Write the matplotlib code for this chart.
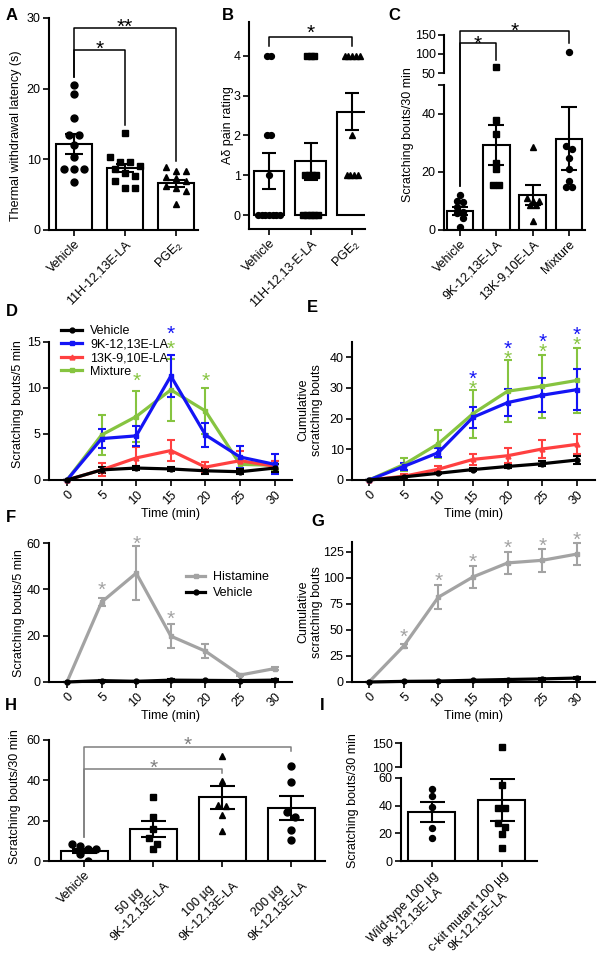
import numpy as np
import matplotlib
matplotlib.use("Agg")
import matplotlib.pyplot as plt
from matplotlib.lines import Line2D
from matplotlib.transforms import ScaledTranslation

plt.rcParams['font.family'] = ['Liberation Sans', 'DejaVu Sans']
plt.rcParams['font.size'] = 9
plt.rcParams['mathtext.fontset'] = 'custom'
plt.rcParams['mathtext.rm'] = 'Liberation Sans'
plt.rcParams['mathtext.default'] = 'regular'
plt.rcParams['axes.linewidth'] = 1.5

# ---------------- data ----------------
# A: thermal withdrawal latency
a_labels = ["Vehicle", "11H-12,13E-LA", "PGE$_2$"]
a_mean = [12.2, 8.8, 6.6]
a_sem = [1.4, 0.6, 0.5]
a_veh = [20.5, 19.2, 15.8, 13.5, 13.5, 12.0, 10.3, 8.6, 8.6, 8.6, 6.8]
a_11h = [13.7, 10.3, 9.6, 9.6, 9.1, 8.6, 8.1, 7.6, 7.0, 6.0, 6.0]
a_pge = [8.9, 8.3, 8.3, 7.5, 7.3, 7.0, 6.2, 6.0, 5.5, 3.7]

# B: A-delta pain rating
b_labels = ["Vehicle", "11H-12,13-E-LA", "PGE$_2$"]
b_mean = [1.1, 1.35, 2.6]
b_sem = [0.45, 0.47, 0.47]
b_veh = [4, 4, 2, 2, 1, 0, 0, 0, 0, 0, 0, 0]
b_11h = [4, 4, 4, 1, 1, 1, 1, 0, 0, 0, 0, 0]
b_pge = [4, 4, 4, 4, 4, 2, 1, 1, 1, 1]

# C: scratching bouts / 30 min
c_labels = ["Vehicle", "9K-12,13E-LA", "13K-9,10E-LA", "Mixture"]
c_mean = [6.6, 29.4, 12.0, 31.5]
c_sem = [1.3, 6.9, 3.5, 10.8]
c_veh = [12.0, 10.0, 9.8, 8.1, 6.3, 5.8, 4.0, 1.0]
c_9k = [65.0, 38.0, 33.0, 23.0, 21.0, 15.5, 15.5]
c_13k = [28.5, 11.0, 10.0, 10.0, 8.5, 8.5, 3.0]
c_mix = [105.0, 29.0, 28.0, 25.0, 21.0, 17.0, 15.0, 15.0]

# D/E: time course
t_min = [0, 5, 10, 15, 20, 25, 30]
de_names = ["Vehicle", "9K-12,13E-LA", "13K-9,10E-LA", "Mixture"]
d_veh = [0, 1.1, 1.3, 1.2, 1.0, 0.9, 1.3]
d_veh_err = [0, 0.3, 0.2, 0.2, 0.3, 0.3, 0.4]
d_9k = [0, 4.5, 4.8, 11.3, 4.9, 2.5, 1.7]
d_9k_err = [0, 1.0, 1.1, 2.3, 1.3, 1.2, 1.1]
d_13k = [0, 1.1, 2.4, 3.2, 1.4, 2.1, 1.5]
d_13k_err = [0, 0.7, 1.2, 1.1, 0.6, 1.0, 0.6]
d_mix = [0, 4.9, 6.9, 9.8, 7.5, 1.7, 1.6]
d_mix_err = [0, 2.2, 2.8, 3.4, 2.5, 0.5, 0.5]

e_veh = [0, 1.0, 2.2, 3.4, 4.4, 5.3, 6.5]
e_veh_err = [0, 0.2, 0.4, 0.5, 0.6, 0.8, 1.2]
e_9k = [0, 4.4, 8.9, 20.4, 25.2, 27.6, 29.4]
e_9k_err = [0, 1.0, 1.4, 3.4, 4.5, 5.6, 6.6]
e_13k = [0, 1.2, 3.5, 6.7, 7.9, 10.1, 11.6]
e_13k_err = [0, 0.6, 0.9, 1.9, 2.4, 2.9, 3.3]
e_mix = [0, 5.0, 11.8, 21.6, 28.9, 30.5, 32.4]
e_mix_err = [0, 2.0, 4.6, 7.8, 10.0, 10.2, 10.5]

d_star_t = [10, 15, 15, 20]
d_star_y = [11.3, 16.4, 14.8, 11.3]
d_star_c = ["green", "blue", "green", "green"]
e_star_t = [15, 15, 20, 20, 25, 25, 30, 30]
e_star_y = [34.6, 31.4, 44.3, 41.0, 46.7, 43.4, 48.9, 45.6]
e_star_c = ["blue", "green"] * 4

# F/G: histamine
fg_names = ["Histamine", "Vehicle"]
f_hist = [0, 34.5, 47.0, 19.8, 13.3, 3.0, 5.8]
f_hist_err = [0, 1.8, 11.5, 5.3, 3.0, 0.6, 0.8]
f_veh = [0, 0.6, 0.3, 0.8, 0.7, 0.6, 0.8]
f_veh_err = [0, 0.3, 0.2, 0.3, 0.3, 0.3, 0.3]
g_hist = [0, 34.5, 81.5, 101.0, 114.5, 117.0, 123.0]
g_hist_err = [0, 2.0, 11.5, 11.0, 10.5, 11.0, 10.5]
g_veh = [0, 0.6, 0.9, 1.7, 2.4, 3.0, 3.8]
g_veh_err = [0, 0.2, 0.3, 0.4, 0.5, 0.6, 0.7]
f_star_t = [5, 10, 15]
f_star_y = [42.0, 62.0, 29.6]
g_star_t = [5, 10, 15, 20, 25, 30]
g_star_y = [48.0, 102.0, 120.0, 133.5, 136.0, 142.0]

# H: dose response
h_labels = ["Vehicle", "50 µg\n9K-12,13E-LA", "100 µg\n9K-12,13E-LA", "200 µg\n9K-12,13E-LA"]
h_mean = [5.0, 15.8, 31.5, 26.2]
h_sem = [1.0, 4.0, 5.5, 5.8]
h_veh = [8.2, 7.5, 6.0, 6.0, 3.5, 0.0]
h_50 = [31.8, 21.6, 16.1, 11.4, 8.3, 6.0]
h_100 = [52.0, 39.8, 28.0, 27.2, 22.9, 14.8]
h_200 = [47.1, 39.0, 24.3, 22.0, 15.3, 10.3]

# I: c-kit
i_labels = ["Wild-type 100 µg\n9K-12,13E-LA", "c-kit mutant 100 µg\n9K-12,13E-LA"]
i_mean = [35.5, 44.2]
i_sem = [7.0, 15.0]
i_wt = [51.9, 47.1, 38.8, 23.5, 16.3]
i_kit = [141.7, 55.1, 38.1, 38.1, 27.7, 24.3, 19.4, 9.2]

COL = {"black": "black", "blue": "#1414f5", "red": "#ff4040", "green": "#86c440", "gray": "#a3a3a3"}
STAR_FS = 15

# ---------------- helpers ----------------
W, H = 604, 965
fig = plt.figure(figsize=(W / 100, H / 100), dpi=100)
star_shift = ScaledTranslation(0, -4 / 72, fig.dpi_scale_trans)


def box(x0, y0, x1, y1):
    return fig.add_axes([x0 / W, 1 - y1 / H, (x1 - x0) / W, (y1 - y0) / H])


def style(ax):
    ax.spines['top'].set_visible(False)
    ax.spines['right'].set_visible(False)
    ax.tick_params(width=1.2, length=4, labelsize=9, pad=2)


def swarm(ax, xc, vals, step):
    # spread points that sit at about the same height into a centred row
    tr = ax.transData
    cx = tr.transform((xc, 0))[0]
    py = [tr.transform((xc, v))[1] for v in vals]
    order = np.argsort(py)[::-1]
    groups, cur = [], [order[0]]
    for k in order[1:]:
        if abs(py[k] - py[cur[0]]) < step * 0.9:
            cur.append(k)
        else:
            groups.append(cur)
            cur = [k]
    groups.append(cur)
    xs = np.zeros(len(vals))
    inv = tr.inverted()
    for g in groups:
        n = len(g)
        for j, k in enumerate(g):
            px = cx + (j - (n - 1) / 2) * step
            xs[k] = inv.transform((px, py[k]))[0]
    return xs


def bars(ax, means, sems, pts, markers, ms, step, width, capsize):
    x = np.arange(len(means))
    ax.bar(x, means, width=width, color='white', edgecolor='black', linewidth=1.5, zorder=1)
    for i, (vals, m) in enumerate(zip(pts, markers)):
        xs = swarm(ax, i, vals, step)
        ax.plot(xs, vals, m, color='black', ms=ms, ls='none', zorder=3)
    ax.errorbar(x, means, yerr=sems, fmt='none', ecolor='black', elinewidth=1.5,
                capsize=capsize, capthick=1.5, zorder=4)


def bracket(ax, x1, x2, y, d1, d2, label, lx, ly, color='black', lw=1.1):
    ax.plot([x1, x1, x2, x2], [d1, y, y, d2], color=color, lw=lw, clip_on=False, zorder=5)
    ax.text(lx, ly, label, ha='center', va='center', color=color, fontsize=STAR_FS,
            clip_on=False, transform=ax.transData + star_shift)


def cat_ticks(ax, labels):
    ax.set_xticks(np.arange(len(labels)))
    ax.set_xticklabels(labels, rotation=45, ha='right', rotation_mode='anchor', ma='center')


def ylab(x, y, s):
    fig.text(x / W, 1 - y / H, s, rotation=90, ha='center', va='center', fontsize=9, ma='center')


def letter(x, y, s):
    fig.text(x / W, 1 - y / H, s, ha='center', va='center', fontsize=12, fontweight='bold')


def lines(ax, series, errs, colors, markers, lw=2.3):
    for y, e, c, m in zip(series, errs, colors, markers):
        ax.errorbar(t_min, y, yerr=e, color=c, lw=lw, marker=m, ms=3.5, elinewidth=1.5,
                    capsize=3, capthick=1.5, clip_on=False)
    ax.set_xticks(t_min)
    ax.set_xticklabels([str(v) for v in t_min], rotation=45, ha='right', rotation_mode='anchor')
    ax.set_xlabel("Time (min)", fontsize=9, labelpad=1)


def stars(ax, ts, ys, cs):
    for t, y, c in zip(ts, ys, cs):
        ax.text(t, y, "*", ha='center', va='center', color=COL[c], fontsize=STAR_FS,
                clip_on=False, transform=ax.transData + star_shift)


# ---------------- A ----------------
ax = box(49, 18, 198, 230)
style(ax)
ax.set_xlim(-0.49, 2.43)
ax.set_ylim(0, 30)
ax.set_yticks([0, 10, 20, 30])
bars(ax, a_mean, a_sem, [a_veh, a_11h, a_pge], ['o', 's', '^'], 5.0, 10, 0.69, 6.5)
cat_ticks(ax, a_labels)
bracket(ax, 0, 1, 25.5, 21.7, 14.8, "*", 0.5, 26.4)
bracket(ax, 0, 2, 28.6, 21.7, 9.8, "**", 1.0, 29.5)
ylab(16, 136, "Thermal withdrawal latency (s)")
letter(12, 15, "A")

# ---------------- B ----------------
ax = box(249, 22, 365, 229)
style(ax)
ax.set_xlim(-0.48, 2.31)
ax.set_ylim(-0.352, 4.855)
ax.set_yticks([0, 1, 2, 3, 4])
bars(ax, b_mean, b_sem, [b_veh, b_11h, b_pge], ['o', 's', '^'], 4.2, 3.7, 0.73, 5)
cat_ticks(ax, b_labels)
bracket(ax, 0, 2, 4.47, 4.25, 4.25, "*", 1.0, 4.72)
ylab(228, 125, "Aδ pain rating")
letter(228, 15, "B")

# ---------------- C (broken axis) ----------------
axc = box(444, 85, 585, 230)
style(axc)
axc.set_xlim(-0.44, 3.44)
axc.set_ylim(0, 50)
axc.set_yticks([0, 20, 40, 50])
axc.set_yticklabels(['0', '20', '40', ''])
axt = box(444, 35, 585, 73)
style(axt)
axt.spines['bottom'].set_visible(False)
axt.set_xlim(-0.44, 3.44)
axt.set_ylim(50, 150)
axt.set_yticks([50, 100, 150])
axt.set_xticks([])
axt.patch.set_alpha(0)
bars(axc, c_mean, c_sem, [c_veh, c_9k, c_13k, c_mix], ['o', 's', '^', 'o'], 4.3, 6, 0.74, 6)
for i, (vals, m) in enumerate(zip([c_veh, c_9k, c_13k, c_mix], ['o', 's', '^', 'o'])):
    xs = swarm(axt, i, vals, 6)
    axt.plot(xs, vals, m, color='black', ms=4.3, ls='none')
cat_ticks(axc, c_labels)
veh_drop = axt.transData.inverted().transform(axc.transData.transform((0, 15)))[1]
bracket(axt, 0, 1, 128, veh_drop, 84, "*", 0.5, 141)
bracket(axt, 0, 3, 161, veh_drop, 128, "*", 1.5, 175)
ylab(408, 135, "Scratching bouts/30 min")
letter(394, 15, "C")

# ---------------- D ----------------
ax = box(49, 342, 292, 480)
style(ax)
ax.set_xlim(-2.6, 32.5)
ax.set_ylim(0, 15)
ax.set_yticks([0, 5, 10, 15])
d_cols = ["green", "red", "blue", "black"]
lines(ax, [d_mix, d_13k, d_9k, d_veh], [d_mix_err, d_13k_err, d_9k_err, d_veh_err],
      [COL[c] for c in d_cols], ['s', '^', 's', 'o'])
stars(ax, d_star_t, d_star_y, d_star_c)
handles = [Line2D([], [], color=COL[c], lw=2.3, marker=m, ms=3.5)
           for c, m in zip(["black", "blue", "red", "green"], ['o', 's', '^', 's'])]
ax.legend(handles, de_names, loc='upper left', bbox_to_anchor=(55 / W, 1 - 319 / H),
          bbox_transform=fig.transFigure, frameon=False, handlelength=1.7,
          handletextpad=0.6, labelspacing=0.12, borderpad=0, fontsize=9)
ylab(18, 404, "Scratching bouts/5 min")
letter(12, 312, "D")

# ---------------- E ----------------
ax = box(352, 342, 595, 480)
style(ax)
ax.set_xlim(-2.45, 32.6)
ax.set_ylim(0, 44.9)
ax.set_yticks([0, 10, 20, 30, 40])
lines(ax, [e_mix, e_13k, e_9k, e_veh], [e_mix_err, e_13k_err, e_9k_err, e_veh_err],
      [COL[c] for c in d_cols], ['s', '^', 's', 'o'])
stars(ax, e_star_t, e_star_y, e_star_c)
ylab(310, 410, "Cumulative\nscratching bouts")
letter(312, 307, "E")

# ---------------- F ----------------
ax = box(49, 543, 292, 682)
style(ax)
ax.set_xlim(-2.6, 32.5)
ax.set_ylim(0, 60)
ax.set_yticks([0, 20, 40, 60])
lines(ax, [f_hist, f_veh], [f_hist_err, f_veh_err], [COL["gray"], "black"], ['s', 'o'])
stars(ax, f_star_t, f_star_y, ["gray"] * 3)
handles = [Line2D([], [], color=c, lw=2.3, marker=m, ms=3.5)
           for c, m in zip([COL["gray"], "black"], ['s', 'o'])]
ax.legend(handles, fg_names, loc='upper left', bbox_to_anchor=(180 / W, 1 - 565 / H),
          bbox_transform=fig.transFigure, frameon=False, handlelength=1.5,
          handletextpad=0.6, labelspacing=0.3, borderpad=0, fontsize=9)
ylab(19, 613, "Scratching bouts/5 min")
letter(11, 518, "F")

# ---------------- G ----------------
ax = box(352, 542, 595, 682)
style(ax)
ax.set_xlim(-2.45, 32.6)
ax.set_ylim(0, 134.6)
ax.set_yticks([0, 25, 50, 75, 100, 125])
lines(ax, [g_hist, g_veh], [g_hist_err, g_veh_err], [COL["gray"], "black"], ['s', 'o'])
stars(ax, g_star_t, g_star_y, ["gray"] * 6)
ylab(310, 612, "Cumulative\nscratching bouts")
letter(318, 521, "G")

# ---------------- H ----------------
ax = box(49, 740, 325, 861)
style(ax)
ax.set_xlim(-0.51, 3.49)
ax.set_ylim(0, 60)
ax.set_yticks([0, 20, 40, 60])
bars(ax, h_mean, h_sem, [h_veh, h_50, h_100, h_200], ['o', 's', '^', 'o'], 5.0, 8, 0.68, 9)
cat_ticks(ax, h_labels)
bracket(ax, 0, 2, 45.4, 11.9, 43.8, "*", 1.0, 48.8, color='#7f7f7f')
bracket(ax, 0, 3, 56.7, 11.9, 54.7, "*", 1.5, 60.0, color='#7f7f7f')
ylab(15, 797, "Scratching bouts/30 min")
letter(11, 705, "H")

# ---------------- I (broken axis) ----------------
axi = box(401, 778, 537, 861)
style(axi)
axi.set_xlim(-0.44, 1.5)
axi.set_ylim(0, 60)
axi.set_yticks([0, 20, 40, 60])
axit = box(401, 743, 537, 767)
style(axit)
axit.spines['bottom'].set_visible(False)
axit.set_xlim(-0.44, 1.5)
axit.set_ylim(100, 150)
axit.set_yticks([100, 150])
axit.set_xticks([])
axit.patch.set_alpha(0)
bars(axi, i_mean, i_sem, [i_wt, i_kit], ['o', 's'], 4.3, 7, 0.67, 9)
for i, (vals, m) in enumerate(zip([i_wt, i_kit], ['o', 's'])):
    xs = swarm(axit, i, vals, 7)
    axit.plot(xs, vals, m, color='black', ms=4.3, ls='none')
cat_ticks(axi, i_labels)
ylab(353, 801, "Scratching bouts/30 min")
letter(322, 705, "I")

fig.savefig("out.png", dpi=100)
